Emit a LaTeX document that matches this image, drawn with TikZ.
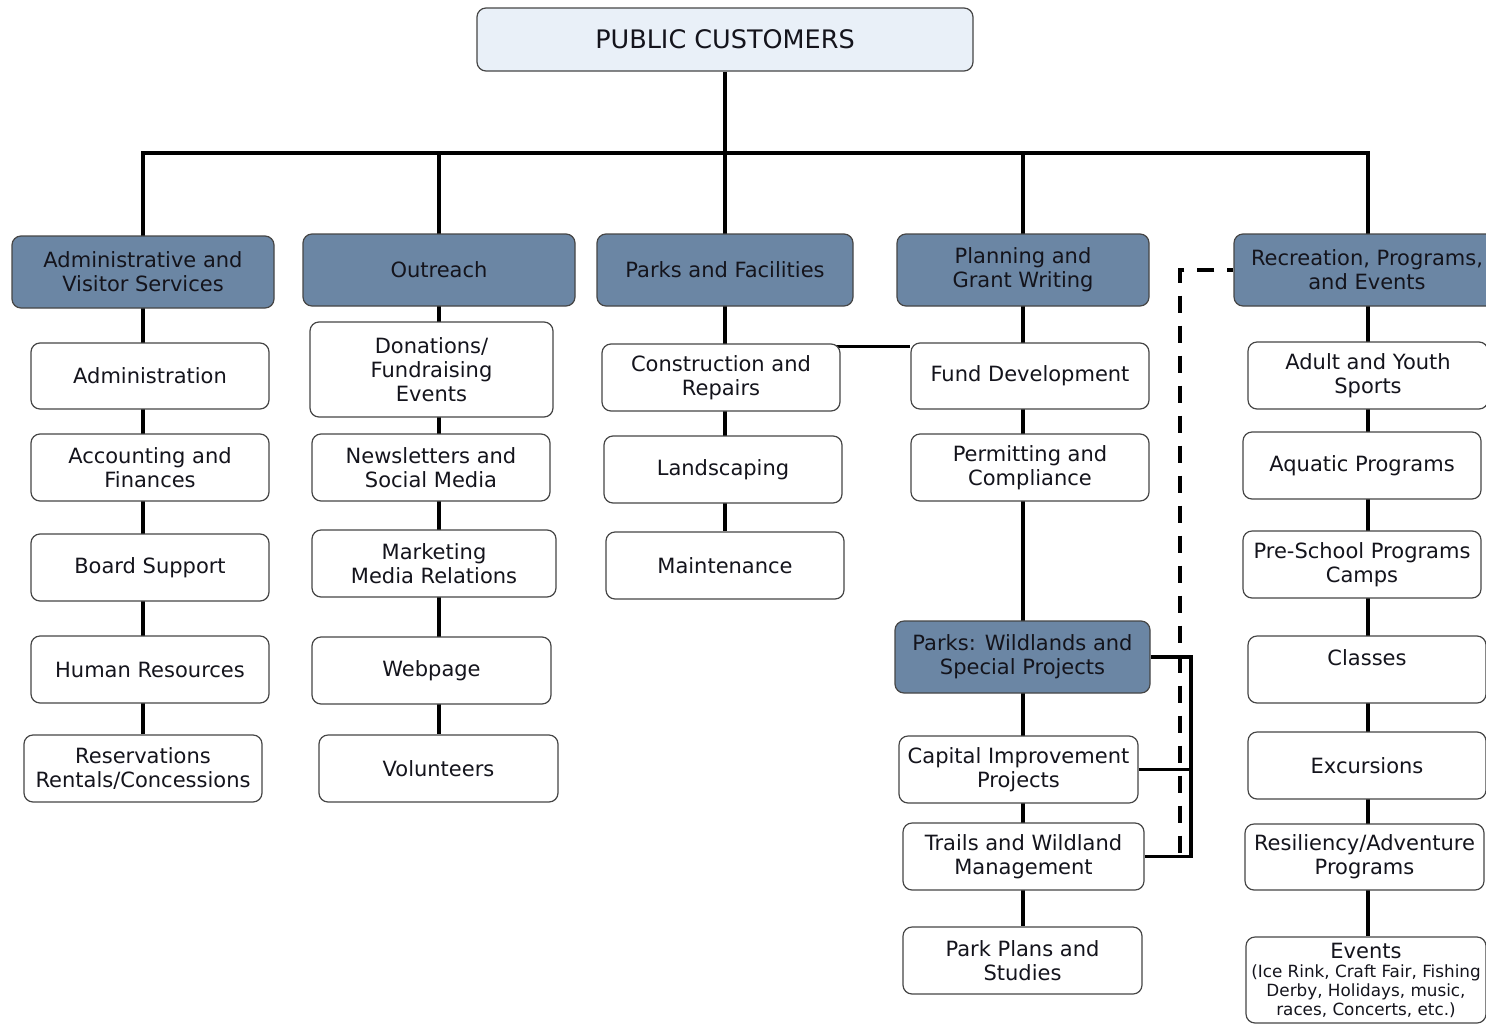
\documentclass[tikz,border=0pt]{standalone}
\usepackage{fontspec}
\setmainfont{DejaVu Sans}
\usetikzlibrary{backgrounds}
\definecolor{darkbox}{RGB}{107,134,164}
\definecolor{lightbox}{RGB}{233,240,248}
\definecolor{boxline}{RGB}{70,70,70}
\definecolor{txt}{RGB}{20,20,28}
\tikzset{
  box/.style={draw=boxline, rounded corners=9pt, fill=white, line width=1.2pt,
    align=center, inner sep=0pt, text=txt, font=\fontsize{21}{24}\selectfont},
  dbox/.style={box, fill=darkbox, minimum height=72pt},
  sbox/.style={box, minimum width=238pt, minimum height=67pt},
  conn/.style={line width=3.8pt, black},
  dashconn/.style={line width=4pt, black, dash pattern=on 17pt off 13pt, dash phase=11pt}
}
\begin{document}
\begin{tikzpicture}[x=1pt,y=-1pt]
\useasboundingbox (0,0) rectangle (1486,1023);
% top
\node[box, fill=lightbox, minimum width=496pt, minimum height=63pt, font=\fontsize{25.5}{28}\selectfont] (top) at (725,39.5) {PUBLIC CUSTOMERS};
% level 1
\node[dbox, minimum width=262pt] (adm) at (143,272) {Administrative and\\Visitor Services};
\node[dbox, minimum width=272pt] (out) at (439,270) {Outreach};
\node[dbox, minimum width=256pt] (paf) at (725,270) {Parks and Facilities};
\node[dbox, minimum width=252pt] (pgw) at (1023,270) {Planning and\\Grant Writing};
\node[dbox, minimum width=266pt] (rec) at (1367,270) {Recreation, Programs,\\and Events};
% column 1
\node[sbox, minimum height=66pt] (a1) at (150,376) {Administration};
\node[sbox] (a2) at (150,467.5) {Accounting and\\Finances};
\node[sbox] (a3) at (150,567.5) {Board Support};
\node[sbox] (a4) at (150,669.5) {Human Resources};
\node[sbox] (a5) at (143,768.5) {Reservations\\Rentals/Concessions};
% column 2
\node[sbox, minimum width=243pt, minimum height=95pt] (o1) at (431.5,369.5) {Donations/\\Fundraising\\Events};
\node[sbox] (o2) at (431,467.5) {Newsletters and\\Social Media};
\node[sbox, minimum width=244pt] (o3) at (434,563.5) {Marketing\\Media Relations};
\node[sbox, minimum width=239pt] (o4) at (431.5,670.5) {Webpage};
\node[sbox, minimum width=239pt] (o5) at (438.5,768.5) {Volunteers};
% column 3
\node[sbox] (p1) at (721,377.5) {Construction and\\Repairs};
\node[sbox] (p2) at (723,469.5) {Landscaping};
\node[sbox] (p3) at (725,565.5) {Maintenance};
% column 4
\node[sbox, minimum height=66pt] (g1) at (1030,376) {Fund Development};
\node[sbox] (g2) at (1030,467.5) {Permitting and\\Compliance};
\node[dbox, minimum width=255pt] (g3) at (1022.5,657) {Parks: Wildlands and\\Special Projects};
\node[sbox, minimum width=239pt] (g4) at (1018.5,769.5) {Capital Improvement\\Projects};
\node[sbox, minimum width=241pt] (g5) at (1023.5,856.5) {Trails and Wildland\\Management};
\node[sbox, minimum width=239pt] (g6) at (1022.5,960.5) {Park Plans and\\Studies};
% column 5
\node[sbox, minimum width=240pt] (r1) at (1368,375.5) {Adult and Youth\\Sports};
\node[sbox] (r2) at (1362,465.5) {Aquatic Programs};
\node[sbox] (r3) at (1362,564.5) {Pre-School Programs\\Camps};
\node[sbox] (r4) at (1367,669.5) {Classes\\\mbox{}};
\node[sbox] (r5) at (1367,765.5) {Excursions};
\node[sbox, minimum width=239pt, minimum height=66pt] (r6) at (1364.5,857) {Resiliency/Adventure\\Programs};
\node[sbox, minimum width=240pt, minimum height=86pt, font=\fontsize{16.8}{19}\selectfont] (r7) at (1366,980) {{\fontsize{21}{24}\selectfont Events}\\(Ice Rink, Craft Fair, Fishing\\Derby, Holidays, music,\\races, Concerts, etc.)};
% connectors
\coordinate (busL) at (143,153);
\coordinate (busR) at (1368,153);
\coordinate (b2) at (439,153);
\coordinate (b4) at (1023,153);
\coordinate (bx) at (1191,657);
\coordinate (dx) at (1180,270);
\begin{pgfonlayer}{background}
\fill[white] (0,0) rectangle (1486,1023);
\draw[conn, line width=4.6pt] (top.south) -- (top.south |- busL);
\draw[conn] (top.south |- busL) -- (top.south |- p3.north);
\draw[conn] (busL |- a5.north) -- (busL) -- (busR) -- (busR |- r7.north);
\draw[conn] (b2) -- (b2 |- o5.north);
\draw[conn] (b4) -- (b4 |- g6.north);
\draw[conn, line width=3.2pt] ([yshift=-3pt]p1.north) -- ([yshift=-3pt]p1.north -| g1.west);
\draw[dashconn] (rec.west) -- (rec.west -| dx) -- (dx |- g5.east);
\draw[conn, line width=3.2pt] (g3.east) -- (g3.east -| bx) -- (bx |- g5.east) -- (g5.east);
\draw[conn, line width=3.2pt] (g4.east) -- (g4.east -| bx);
\end{pgfonlayer}
\end{tikzpicture}
\end{document}
